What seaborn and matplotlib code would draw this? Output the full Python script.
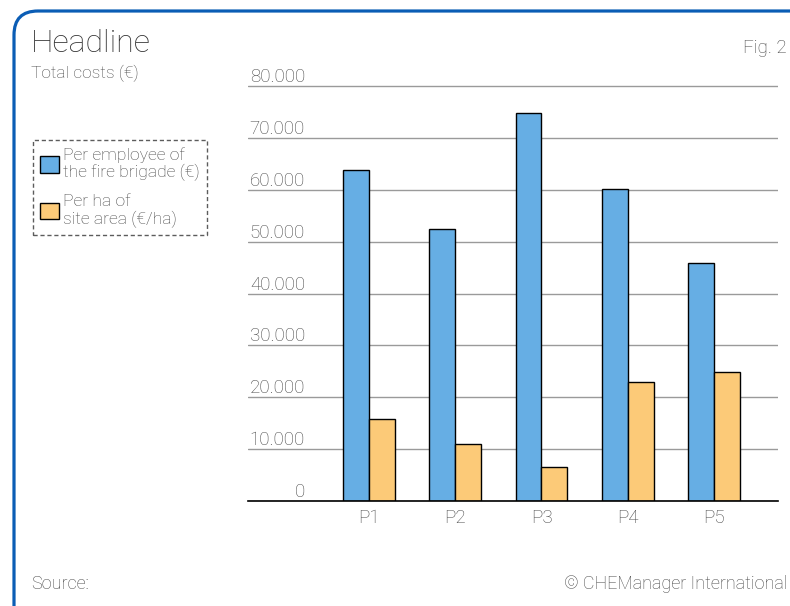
import matplotlib
matplotlib.use("Agg")
import matplotlib.pyplot as plt
from matplotlib.patches import FancyBboxPatch, Patch
import seaborn as sns
import pandas as pd

# ---- data ----
projects = ["P1", "P2", "P3", "P4", "P5"]
per_employee = [63800, 52400, 74800, 60200, 45900]
per_ha = [15900, 10900, 6500, 22900, 24800]
series_names = ["Per employee of\nthe fire brigade (€)", "Per ha of\nsite area (€/ha)"]
y_ticks = [0, 10000, 20000, 30000, 40000, 50000, 60000, 70000, 80000]
y_tick_labels = ["0", "10.000", "20.000", "30.000", "40.000", "50.000", "60.000", "70.000", "80.000"]

df = pd.DataFrame({
    "project": projects * 2,
    "value": per_employee + per_ha,
    "series": [series_names[0]] * len(projects) + [series_names[1]] * len(projects),
})

sns.set_theme(style="white")
FONT = ["Roboto", "DejaVu Sans"]
plt.rcParams["font.family"] = FONT
plt.rcParams["font.weight"] = "light"

W, H = 790, 606
fig = plt.figure(figsize=(W / 100, H / 100), dpi=100)

def fx(x):
    return x / W

def fy(y):
    return 1 - y / H

GREY = "#474747"
blue = "#66aee4"
orange = "#fcca78"

ax_left, ax_right, ax_bottom, ax_top = 248, 778, 501, 81
ax = fig.add_axes([fx(ax_left), fy(ax_bottom), (ax_right - ax_left) / W, (ax_bottom - ax_top) / H])

sns.barplot(data=df, x="project", y="value", hue="series", palette=[blue, orange],
            saturation=1, edgecolor="black", linewidth=1.0, width=0.6, ax=ax, legend=False)

ax.set_xlim(-1.40, 4.74)
ax.set_ylim(0, 81000)
ax.set_yticks(y_ticks)
ax.set_yticklabels(y_tick_labels)
ax.set_xlabel("")
ax.set_ylabel("")
for s in ["top", "right", "left"]:
    ax.spines[s].set_visible(False)
ax.spines["bottom"].set_color("black")
ax.spines["bottom"].set_linewidth(1.2)
ax.yaxis.grid(True, color="#9a9a9a", linewidth=1.0)
ax.set_axisbelow(True)
ax.tick_params(axis="y", length=0, pad=-41, labelsize=13.5, labelcolor=GREY)
ax.tick_params(axis="x", length=0, pad=6, labelsize=13.5, labelcolor=GREY)
for lab in ax.get_yticklabels():
    lab.set_horizontalalignment("right")
    lab.set_verticalalignment("bottom")

# ---- texts ----
fig.text(fx(31), fy(52), "Headline", fontsize=23, color="#333333", va="baseline", ha="left")
fig.text(fx(31), fy(78), "Total costs (€)", fontsize=12.5, color=GREY, va="baseline", ha="left")
fig.text(fx(787), fy(53), "Fig. 2", fontsize=13.5, color=GREY, va="baseline", ha="right")
fig.text(fx(31), fy(589), "Source:", fontsize=13, color=GREY, va="baseline", ha="left")
fig.text(fx(787), fy(589), "© CHEManager International", fontsize=13, color=GREY, va="baseline", ha="right")

# ---- legend ----
handles = [Patch(facecolor=blue, edgecolor="black", linewidth=1.0, label=series_names[0]),
           Patch(facecolor=orange, edgecolor="black", linewidth=1.0, label=series_names[1])]
leg = fig.legend(handles=handles, loc="upper left", bbox_to_anchor=(fx(33), fy(140)),
                 fontsize=12.6, frameon=True, handlelength=1.1, handleheight=1.1,
                 handletextpad=0.22, labelspacing=0.72, borderpad=0.4, borderaxespad=0,
                 fancybox=False, labelcolor=GREY, alignment="left")
for t in leg.get_texts():
    t.set_linespacing(1.12)
frame = leg.get_frame()
frame.set_linestyle((0, (3, 2)))
frame.set_edgecolor("#333333")
frame.set_linewidth(1.0)

# ---- rounded frame ----
box = FancyBboxPatch((14 / 100, (H - 640) / 100), (820 - 14) / 100, (640 - 11) / 100,
                     boxstyle="round,pad=0,rounding_size=0.24",
                     transform=fig.dpi_scale_trans, facecolor="none",
                     edgecolor="#0b5db5", linewidth=2.3, clip_on=False)
fig.patches.append(box)

fig.savefig("out.png", dpi=100)
